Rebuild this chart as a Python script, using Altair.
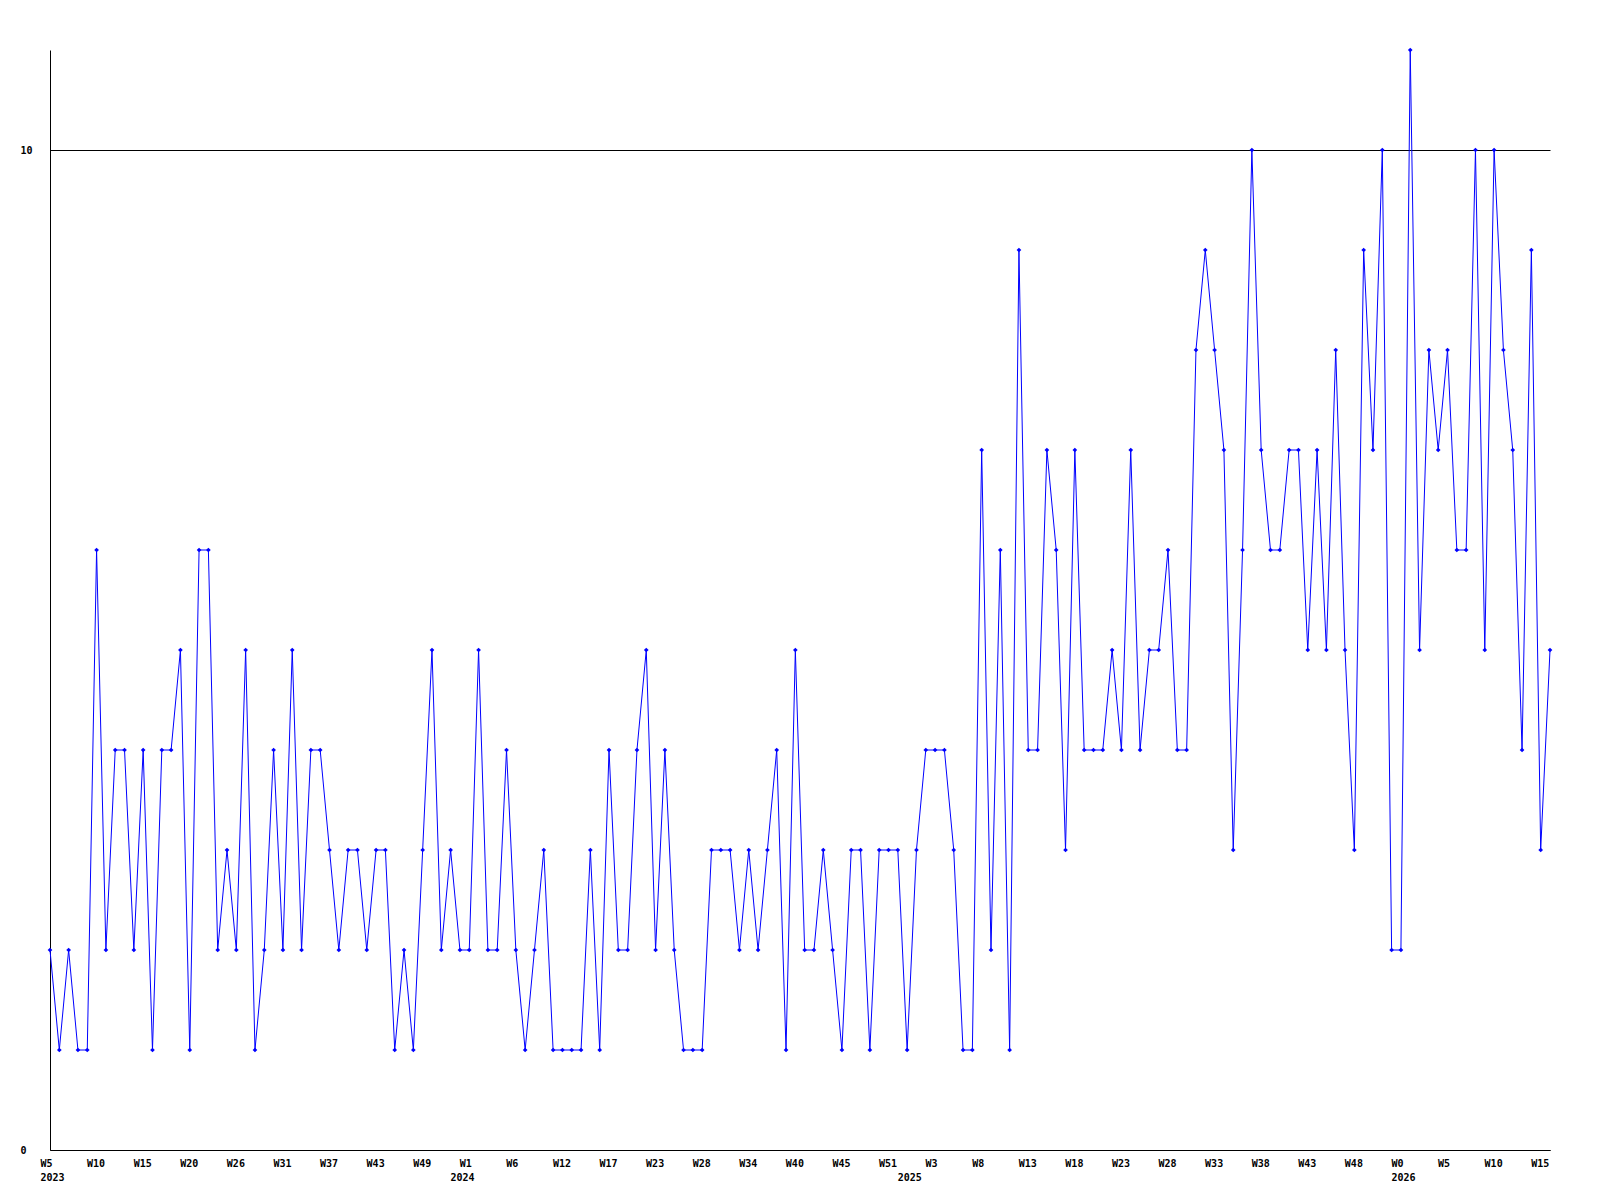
import json
import altair as alt
import pandas as pd

# Weekly counts, in order (one value per plotted point)
values = [
    2, 1, 2, 1, 1, 6, 2, 4, 4, 2, 4, 1, 4, 4, 5, 1, 6, 6, 2, 3,
    2, 5, 1, 2, 4, 2, 5, 2, 4, 4, 3, 2, 3, 3, 2, 3, 3, 1, 2, 1,
    3, 5, 2, 3, 2, 2, 5, 2, 2, 4, 2, 1, 2, 3, 1, 1, 1, 1, 3, 1,
    4, 2, 2, 4, 5, 2, 4, 2, 1, 1, 1, 3, 3, 3, 2, 3, 2, 3, 4, 1,
    5, 2, 2, 3, 2, 1, 3, 3, 1, 3, 3, 3, 1, 3, 4, 4, 4, 3, 1, 1,
    7, 2, 6, 1, 9, 4, 4, 7, 6, 3, 7, 4, 4, 4, 5, 4, 7, 4, 5, 5,
    6, 4, 4, 8, 9, 8, 7, 3, 6, 10, 7, 6, 6, 7, 7, 5, 7, 5, 8, 5,
    3, 9, 7, 10, 2, 2, 11, 5, 8, 7, 8, 6, 6, 10, 5, 10, 8, 7, 4, 9,
    3, 5,
]

# Week tick labels (one every 5 points)
week_labels = [
    "W5", "W10", "W15", "W20", "W26", "W31", "W37", "W43", "W49", "W1",
    "W6", "W12", "W17", "W23", "W28", "W34", "W40", "W45", "W51", "W3",
    "W8", "W13", "W18", "W23", "W28", "W33", "W38", "W43", "W48", "W0",
    "W5", "W10", "W15",
]
# Year labels and the point index where each year begins
year_labels = ["2023", "2024", "2025", "2026"]
year_starts = [0, 44, 92, 145]

df = pd.DataFrame({"idx": list(range(len(values))), "count": values})

# Build tick values and (possibly multi-line) labels
tick_map = {}
for k, lab in enumerate(week_labels):
    tick_map[k * 5] = [lab]
for y, s in zip(year_labels, year_starts):
    if s in tick_map:
        tick_map[s] = tick_map[s] + [y]
    else:
        tick_map[s] = ["", y]
tick_vals = sorted(tick_map)
tick_texts = [tick_map[v] if len(tick_map[v]) > 1 else tick_map[v][0] for v in tick_vals]
label_expr = "%s[indexof(%s, datum.value)]" % (json.dumps(tick_texts), json.dumps(tick_vals))

FONT = "DejaVu Sans Mono"
BLUE = "#0000ff"

x_enc = alt.X(
    "idx:Q",
    scale=alt.Scale(domain=[0, len(values) - 1], nice=False, zero=False),
    axis=alt.Axis(
        values=tick_vals,
        labelExpr=label_expr,
        title=None,
        grid=False,
        ticks=False,
        tickSize=0,
        labelAlign="left",
        labelBaseline="top",
        labelOffset=-10,
        labelPadding=8,
        labelLineHeight=14,
        labelFlush=False,
        labelOverlap=False,
        labelBound=False,
        labelFont=FONT,
        labelFontWeight="bold",
        labelFontSize=10,
        labelColor="black",
        domainColor="black",
        domainWidth=1,
    ),
)
y_enc = alt.Y(
    "count:Q",
    scale=alt.Scale(domain=[0, 11], nice=False, zero=True),
    axis=alt.Axis(
        values=[0, 10],
        title=None,
        grid=True,
        gridColor="black",
        gridOpacity=1,
        gridWidth=1,
        ticks=False,
        tickSize=0,
        labelAlign="left",
        labelPadding=30,
        labelFont=FONT,
        labelFontWeight="bold",
        labelFontSize=10,
        labelColor="black",
        domainColor="black",
        domainWidth=1,
    ),
)

line = alt.Chart(df).mark_line(color=BLUE, strokeWidth=1).encode(x=x_enc, y=y_enc)
pts = alt.Chart(df).mark_point(
    shape="diamond", filled=True, color=BLUE, size=22, opacity=1
).encode(x=x_enc, y=y_enc)

chart = (
    alt.layer(line, pts)
    .properties(
        width=1500,
        height=1100,
        autosize=alt.AutoSizeParams(type="none"),
        padding={"left": 42, "top": 42, "right": 30, "bottom": 42},
        background="white",
    )
    .configure_view(strokeWidth=0)
)

chart.save("out.html", embed_options={"renderer": "svg", "actions": False})
